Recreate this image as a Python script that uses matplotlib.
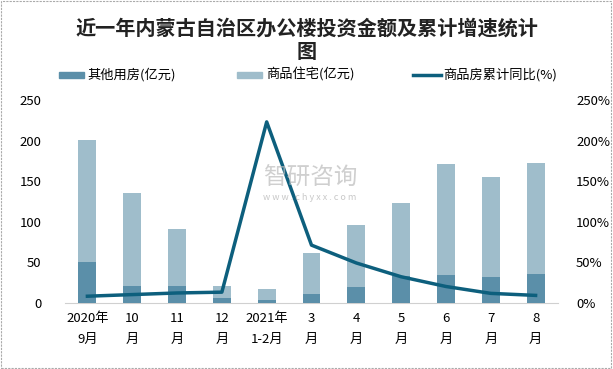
import matplotlib
matplotlib.use("Agg")
import matplotlib.pyplot as plt
from matplotlib.patches import Rectangle
from matplotlib.lines import Line2D

plt.rcParams['font.family'] = ['Noto Sans CJK SC', 'DejaVu Sans']

categories = ["2020年\n9月", "10\n月", "11\n月", "12\n月", "2021年\n1-2月", "3\n月",
              "4\n月", "5\n月", "6\n月", "7\n月", "8\n月"]
other_use = [50, 21, 21, 6, 3.5, 11, 19.5, 32.5, 34, 32, 35.5]
residential = [201, 135, 91, 21, 17, 61, 96, 123, 171, 155, 172]
yoy_pct = [8, 10, 12, 13, 223, 71, 49, 32, 20, 11.5, 9]

c_dark = "#5b8fa9"
c_light = "#9fbdcb"
c_line = "#0d5f7d"

fig = plt.figure(figsize=(6.13, 3.69), dpi=100)
ax = fig.add_axes([65/613, 1-302.7/369, 493/613, 202.7/369])
ax2 = ax.twinx()

x = list(range(len(categories)))
ax.bar(x, residential, width=0.4, color=c_light, zorder=2)
ax.bar(x, other_use, width=0.4, color=c_dark, zorder=3)
ax2.plot(x, yoy_pct, color=c_line, lw=2.5, zorder=4)

ax.set_xlim(-0.5, len(categories) - 0.5)
ax.set_ylim(0, 250)
ax2.set_ylim(0, 250)
ax.set_yticks([0, 50, 100, 150, 200, 250])
ax2.set_yticks([0, 50, 100, 150, 200, 250])
ax2.set_yticklabels([f"{v}%" for v in [0, 50, 100, 150, 200, 250]])
ax.set_xticks(x)
ax.set_xticklabels(categories, fontsize=9.5, linespacing=1.75)

for a in (ax, ax2):
    for s in a.spines.values():
        s.set_visible(False)
    a.tick_params(length=0, labelsize=9.5, colors="#000000")
ax.spines['bottom'].set_visible(True)
ax.spines['bottom'].set_color("#d0d0d0")
ax.tick_params(axis='y', pad=17)
ax2.tick_params(axis='y', pad=13)
ax.tick_params(axis='x', pad=7)
ax2.patch.set_visible(False)

fig.text(0.5, 1-28/369, "近一年内蒙古自治区办公楼投资金额及累计增速统计", ha='center', va='center',
         fontsize=14.5, fontweight='bold', color="#222222")
fig.text(0.5, 1-52/369, "图", ha='center', va='center', fontsize=14.5, fontweight='bold', color="#222222")

# legend
ly = 1 - 75/369
fig.patches.append(Rectangle((59/613, ly - 3/369), 25/613, 6/369, transform=fig.transFigure,
                             color=c_dark, figure=fig))
fig.text(87/613, ly, "其他用房(亿元)", va='center', ha='left', fontsize=9.5)
fig.patches.append(Rectangle((237/613, ly - 3/369), 25/613, 6/369, transform=fig.transFigure,
                             color=c_light, figure=fig))
fig.text(266/613, ly, "商品住宅(亿元)", va='center', ha='left', fontsize=9.5)
fig.lines.append(Line2D([413/613, 441/613], [ly, ly], transform=fig.transFigure, color=c_line, lw=2.5))
fig.text(443/613, ly, "商品房累计同比(%)", va='center', ha='left', fontsize=9.5)

# watermark
fig.text(310/613, 1-178/369, "智研咨询", ha='center', va='center', fontsize=17, color="#bbbbbb", alpha=0.7)
fig.text(310/613, 1-197/369, "w w w . c h y x x . c o m", ha='center', va='center', fontsize=6.5,
         color="#bbbbbb", alpha=0.8)

fig.patches.append(Rectangle((0.002, 0.003), 0.995, 0.993, transform=fig.transFigure, fill=False,
                             edgecolor="#aaaaaa", lw=0.8, ls=(0, (2, 1)), figure=fig))

fig.savefig("out.png", dpi=100)
